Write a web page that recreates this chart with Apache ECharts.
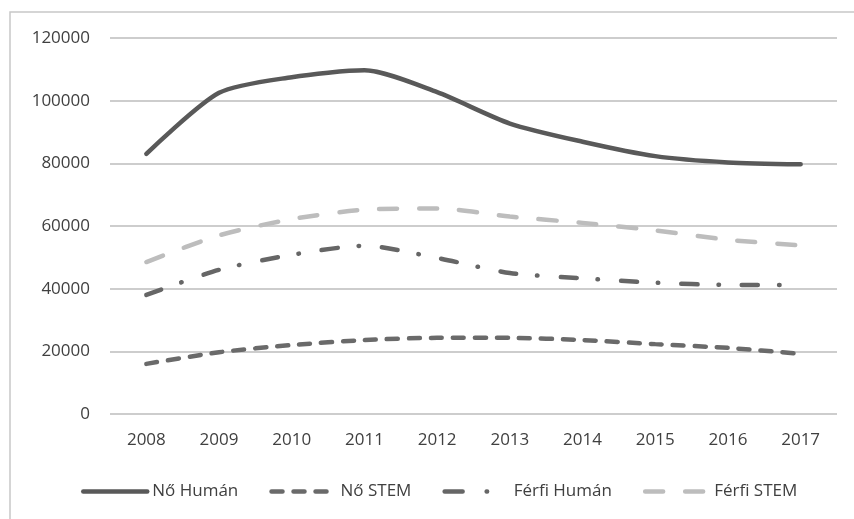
<!DOCTYPE html>
<html>
<head>
<meta charset="utf-8">
<script src="https://cdn.jsdelivr.net/npm/echarts@6/dist/echarts.min.js"></script>
<style>
  html, body { margin: 0; padding: 0; background: #fff; }
  #stage { width: 854px; height: 519px; }
</style>
</head>
<body>
<div id="stage"></div>
<script>
'use strict';

const years = ['2008', '2009', '2010', '2011', '2012', '2013', '2014', '2015', '2016', '2017'];
const noHuman = [83000, 102500, 107500, 109700, 102700, 92700, 86900, 82300, 80300, 79700];
const noStem = [16000, 19700, 22000, 23600, 24300, 24300, 23600, 22300, 21100, 19200];
const ferfiHuman = [38000, 46000, 50800, 53700, 49800, 45000, 43300, 41900, 41200, 41200];
const ferfiStem = [48500, 57000, 62200, 65200, 65600, 63000, 61000, 58600, 55600, 53800];

const myChart = echarts.init(document.getElementById('stage'));

const font = 'Open Sans, Liberation Sans, sans-serif';

function lineSeries(name, data, color, type) {
  return {
    name: name,
    type: 'line',
    data: data,
    symbol: 'none',
    smooth: 0.25,
    color: color,
    lineStyle: { color: color, width: 4.5, type: type, cap: 'round' }
  };
}

const option = {
  animation: false,
  backgroundColor: '#fff',
  graphic: [{
    type: 'rect',
    shape: { x: 10, y: 12, width: 870, height: 520 },
    style: { fill: 'none', stroke: '#c8c8c8', lineWidth: 1.5 }
  }],
  grid: { left: 110, right: 17, top: 38, bottom: 105 },
  legend: {
    top: 478,
    left: 76,
    itemWidth: 64,
    itemHeight: 12,
    itemGap: 31,
    itemStyle: { opacity: 0 },
    lineStyle: { width: 4.5, cap: 'round' },
    textStyle: { fontFamily: font, fontSize: 17, color: '#404040' },
    data: [
      'Nő Humán',
      'Nő STEM',
      { name: 'Férfi Humán', lineStyle: { type: [18, 24, 0.5, 40] } },
      'Férfi STEM'
    ]
  },
  xAxis: {
    type: 'category',
    data: years,
    boundaryGap: true,
    axisLine: { show: false },
    axisTick: { show: false },
    axisLabel: { fontFamily: font, fontSize: 17, color: '#404040', margin: 18 }
  },
  yAxis: {
    type: 'value',
    min: 0,
    max: 120000,
    interval: 20000,
    axisLine: { show: false },
    axisTick: { show: false },
    axisLabel: {
      fontFamily: font, fontSize: 17, color: '#404040', margin: 20,
      formatter: function (v) { return String(v); }
    },
    splitLine: { lineStyle: { color: '#bdbdbd', width: 1.5 } }
  },
  series: [
    lineSeries('Nő Humán', noHuman, '#595959', 'solid'),
    lineSeries('Nő STEM', noStem, '#6a6a6a', [11, 11]),
    lineSeries('Férfi Humán', ferfiHuman, '#666666', [16, 21, 0.5, 23]),
    lineSeries('Férfi STEM', ferfiStem, '#bdbdbd', [18, 22])
  ]
};

myChart.setOption(option);
</script>
</body>
</html>
